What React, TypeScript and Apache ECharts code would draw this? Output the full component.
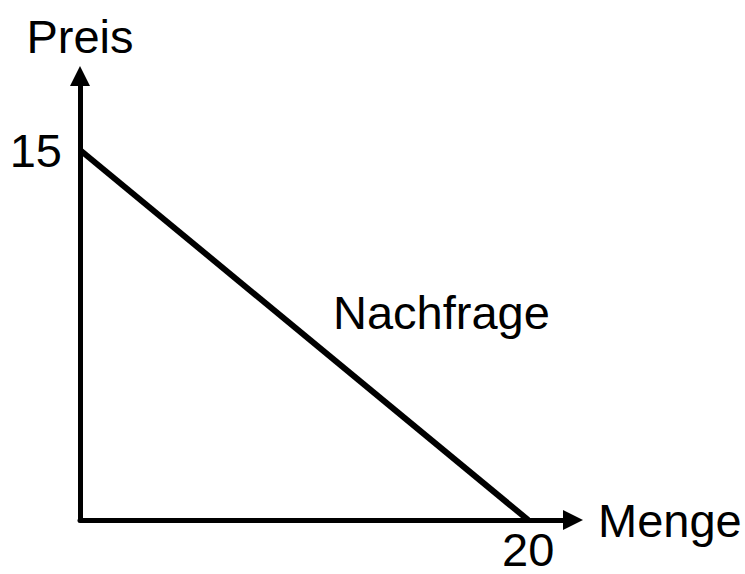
import React, { useEffect, useRef } from "react";
import * as echarts from "echarts";

const demandPoints: [number, number][] = [
  [0, 15],
  [20, 0],
];
const xTickValues = [20];
const yTickValues = [15];
const xAxisName = "Menge";
const yAxisName = "Preis";
const curveLabel = "Nachfrage";

const FONT = "'Liberation Sans', Arial, Helvetica, sans-serif";
const FS = 47;

export default function App() {
  const ref = useRef<HTMLDivElement>(null);
  useEffect(() => {
    if (!ref.current) return;
    const chart = echarts.init(ref.current, undefined, { renderer: "svg" });
    chart.setOption({
      animation: false,
      backgroundColor: "#ffffff",
      grid: { left: 80, right: 172, top: 76, bottom: 54, containLabel: false },
      xAxis: {
        type: "value",
        min: 0,
        max: 22,
        name: xAxisName,
        nameLocation: "end",
        nameGap: 25,
        nameTextStyle: { fontSize: FS, color: "#000", fontFamily: FONT, align: "left", verticalAlign: "middle", lineHeight: FS },
        axisLine: {
          show: true,
          onZero: false,
          symbol: ["none", "triangle"],
          symbolSize: [20, 20],
          lineStyle: { color: "#000", width: 5 },
        },
        axisTick: { show: false },
        splitLine: { show: false },
        axisLabel: {
          customValues: xTickValues,
          fontSize: FS,
          lineHeight: FS,
          color: "#000",
          fontFamily: FONT,
          margin: 6,
        },
      },
      yAxis: {
        type: "value",
        min: 0,
        max: 18,
        name: yAxisName,
        nameLocation: "end",
        nameGap: 16,
        nameTextStyle: { fontSize: FS, color: "#000", fontFamily: FONT, align: "center", lineHeight: FS },
        axisLine: {
          show: true,
          onZero: false,
          symbol: ["none", "triangle"],
          symbolSize: [20, 20],
          lineStyle: { color: "#000", width: 5 },
        },
        axisTick: { show: false },
        splitLine: { show: false },
        axisLabel: {
          customValues: yTickValues,
          fontSize: FS,
          lineHeight: FS,
          color: "#000",
          fontFamily: FONT,
          margin: 18,
        },
      },
      graphic: [
        {
          type: "text",
          left: 333,
          top: 289,
          style: { text: curveLabel, fontSize: FS, lineHeight: FS, fill: "#000", fontFamily: FONT },
        },
      ],
      series: [
        {
          type: "line",
          data: demandPoints,
          symbol: "none",
          lineStyle: { color: "#000", width: 6 },
          z: 5,
        },
      ],
    });
    return () => chart.dispose();
  }, []);
  return (
    <div
      ref={ref}
      style={{ position: "absolute", left: 0, top: 0, width: 745, height: 574, background: "#fff" }}
    />
  );
}
